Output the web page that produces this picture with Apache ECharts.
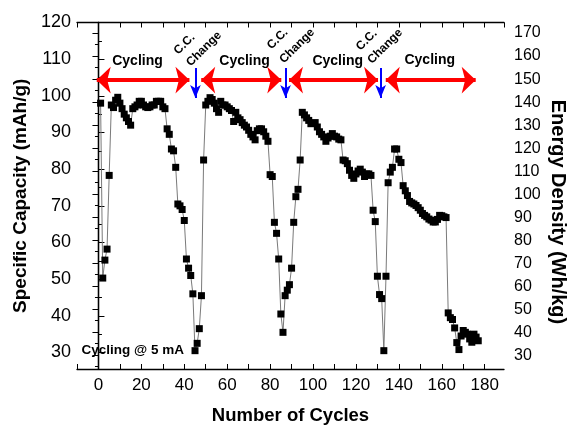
<!DOCTYPE html>
<html>
<head>
<meta charset="utf-8">
<script src="https://cdn.jsdelivr.net/npm/echarts@6/dist/echarts.min.js"></script>
<style>
  html, body { margin: 0; padding: 0; background: #fff; }
  #main { width: 570px; height: 425px; }
</style>
</head>
<body>
<div id="main"></div>
<script>
var cycles = [1,2,3,4,5,6,7,8,9,10,11,12,13,14,15,16,17,18,19,20,
  21,22,23,24,25,26,27,28,29,30,31,32,33,34,35,36,37,38,39,40,
  41,42,43,44,45,46,47,48,49,50,51,52,53,54,55,56,57,58,59,60,
  61,62,63,64,65,66,67,68,69,70,71,72,73,74,75,76,77,78,79,80,
  81,82,83,84,85,86,87,88,89,90,91,92,93,94,95,96,97,98,99,100,
  101,102,103,104,105,106,107,108,109,110,111,112,113,114,115,116,117,118,119,120,
  121,122,123,124,125,126,127,128,129,130,131,132,133,134,135,136,137,138,139,140,
  141,142,143,144,145,146,147,148,149,150,151,152,153,154,155,156,157,158,159,160,
  161,162,163,164,165,166,167,168,169,170,171,172,173,174,175,176,177];
var capacity = [98,50.3,55.2,58.2,78.3,97.5,96.8,98.8,99.6,98,
  96.5,95,94,93,92,96.5,97,97.5,98.5,98.5,
  97.5,97,96.8,97,97.5,97.5,98.5,98.5,98.5,97,
  96.5,91,89.5,85.5,85,80.5,70.5,70,69,66,
  55.5,53,51,46,30.5,32.5,36.5,45.5,82.5,97.5,
  98.5,99.5,99,98,96.5,95.5,98.5,97.5,97.5,97,
  96.5,96,93,95.5,94,93.5,92.7,92,91.5,90.6,
  89.5,88.8,88,90.5,91,91,90.2,89,87.6,78.5,
  78,65.5,62.5,55.5,40.5,35.5,45.5,47,48.5,53,
  65.5,72.5,74.5,82.5,95.5,94.8,94,93.3,92.4,92.5,
  92.7,91.5,90.2,89.5,88.8,87.6,88.5,89,89.7,89,
  88.8,88.2,88,82.5,82.3,81.5,79.7,78.3,77.5,78.7,
  79.5,80,79.2,78,78.7,78.7,78.3,68.8,65.7,50.8,
  45.8,44.7,30.5,50.8,76.3,79.2,80.5,85.5,85.5,82.7,
  81.8,75.5,74.1,72.8,71.2,70.8,70.5,70.1,69.5,68.8,
  67.9,67.4,67,66.4,66.1,65.6,65.6,66.3,67.4,67.3,
  67,66.8,40.8,39.5,39,36.7,32.7,30.8,34.5,36,
  35.5,35,33.7,32.8,35,34.2,33.2];

var xTicks = [0,20,40,60,80,100,120,140,160,180];
var annotCycling = ['Cycling','Cycling','Cycling','Cycling'];

var font = 'Liberation Sans, Arial, Helvetica, sans-serif';
var seriesData = cycles.map(function (c, i) { return [c, capacity[i]]; });

var chart = echarts.init(document.getElementById('main'), null, { renderer: 'canvas' });

var option = {
  animation: false,
  backgroundColor: '#fff',
  grid: { left: 77, right: 66, top: 22.5, bottom: 56, outerBoundsMode: 'none', containLabel: false },
  xAxis: [{
    type: 'value', position: 'bottom',
    min: -10, max: 189, interval: 10,
    axisLine: { lineStyle: { color: '#000', width: 1.3 } },
    axisTick: { inside: true, length: 5, lineStyle: { color: '#000' } },
    splitLine: { show: false },
    axisLabel: {
      color: '#000', fontSize: 17, fontFamily: font, margin: 8,
      showMinLabel: true, showMaxLabel: false,
      formatter: function (v) { return xTicks.indexOf(v) >= 0 ? String(v) : ''; }
    },
    name: 'Number of Cycles', nameLocation: 'middle', nameGap: 37,
    nameTextStyle: { fontSize: 18.5, fontWeight: 'bold', color: '#000', fontFamily: font }
  }, {
    type: 'value', position: 'top',
    min: -10, max: 189, interval: 10,
    axisLine: { lineStyle: { color: '#000', width: 1.3 } },
    axisTick: { inside: true, length: 5, lineStyle: { color: '#000' } },
    axisLabel: { show: false },
    splitLine: { show: false }
  }],
  yAxis: [{
    type: 'value', position: 'left',
    min: 25.5, max: 120, splitNumber: 9,
    axisLine: { show: true, lineStyle: { color: '#000', width: 1.3 } },
    axisTick: { show: true, inside: true, length: 6, lineStyle: { color: '#000' } },
    minorTick: { show: true, splitNumber: 2, length: 3.5, lineStyle: { color: '#000' } },
    splitLine: { show: false },
    axisLabel: {
      color: '#000', fontSize: 18, fontFamily: font, margin: 6,
      showMinLabel: false
    },
    name: 'Specific Capacity (mAh/g)', nameLocation: 'middle', nameRotate: 90, nameGap: 44,
    nameTextStyle: { fontSize: 19, fontWeight: 'bold', color: '#000', fontFamily: font }
  }, {
    type: 'value', position: 'right',
    min: 24, max: 174.6, splitNumber: 15,
    axisLine: { show: true, lineStyle: { color: '#000', width: 1.3 } },
    axisTick: { show: true, inside: true, length: 6, lineStyle: { color: '#000' } },
    minorTick: { show: true, splitNumber: 2, length: 3.5, lineStyle: { color: '#000' } },
    splitLine: { show: false },
    axisLabel: {
      color: '#000', fontSize: 16, fontFamily: font, margin: 10,
      showMinLabel: false, showMaxLabel: false
    }
  }],
  series: [{
    name: 'capacity',
    type: 'line',
    data: seriesData,
    symbol: 'rect',
    symbolSize: 7,
    showAllSymbol: true,
    itemStyle: { color: '#000' },
    lineStyle: { color: '#7a7a7a', width: 1 },
    z: 3,
    markLine: {
      silent: true,
      label: { show: false },
      data: [
        [{ coord: [-0.8, 104.3], symbol: 'arrow' }, { coord: [42.4, 104.3], symbol: 'arrow' }],
        [{ coord: [47.9, 104.3], symbol: 'arrow' }, { coord: [85.2, 104.3], symbol: 'arrow' }],
        [{ coord: [88.8, 104.3], symbol: 'arrow' }, { coord: [130.3, 104.3], symbol: 'arrow' }],
        [{ coord: [133.9, 104.3], symbol: 'arrow' }, { coord: [175.8, 104.3], symbol: 'arrow' }]
      ],
      symbolSize: [20, 14],
      lineStyle: { color: '#ff0000', width: 4, type: 'solid' }
    }
  }, {
    name: 'cc',
    type: 'line',
    data: [],
    markLine: {
      silent: true,
      label: { show: false },
      symbol: ['none', 'arrow'],
      symbolSize: [8, 13],
      data: [
        [{ coord: [45.2, 107.6] }, { coord: [45.2, 99.4] }],
        [{ coord: [87.2, 107.6] }, { coord: [87.2, 99.4] }],
        [{ coord: [131.5, 107.6] }, { coord: [131.5, 99.4] }]
      ],
      lineStyle: { color: '#0000ff', width: 2, type: 'solid' }
    }
  }]
};

chart.setOption(option);

function px(c, v) { return chart.convertToPixel({ xAxisIndex: 0, yAxisIndex: 0 }, [c, v]); }

var graphics = [];
var cyclingPos = [[18.2, 109.5], [68.1, 109.5], [111.5, 109.5], [154.4, 109.8]];
annotCycling.forEach(function (t, i) {
  var p = px(cyclingPos[i][0], cyclingPos[i][1]);
  graphics.push({ type: 'text', x: p[0], y: p[1], style: { text: t, fontSize: 14, fontWeight: 'bold', fontFamily: font, fill: '#000', align: 'center', verticalAlign: 'middle' } });
});
var ccPos = [[40.1, 114.1], [83.5, 115.5], [125, 115.2]];
var chPos = [[49.2, 112.8], [92.6, 113.6], [133.6, 113.5]];
ccPos.forEach(function (q, i) {
  var p = px(q[0], q[1]);
  graphics.push({ type: 'text', x: p[0], y: p[1], rotation: Math.PI / 4, style: { text: 'C.C.', fontSize: 12, fontWeight: 'bold', fontFamily: font, fill: '#000', align: 'center', verticalAlign: 'middle' } });
  var r = px(chPos[i][0], chPos[i][1]);
  graphics.push({ type: 'text', x: r[0], y: r[1], rotation: Math.PI / 4, style: { text: 'Change', fontSize: 12, fontWeight: 'bold', fontFamily: font, fill: '#000', align: 'center', verticalAlign: 'middle' } });
});
var note = px(-7.9, 30.7);
graphics.push({ type: 'text', x: note[0], y: note[1], style: { text: 'Cycling @ 5 mA', fontSize: 13.5, fontWeight: 'bold', fontFamily: font, fill: '#000', align: 'left', verticalAlign: 'middle' } });
graphics.push({ type: 'text', x: 558, y: 212, rotation: -Math.PI / 2, style: { text: 'Energy Density (Wh/kg)', fontSize: 20, fontWeight: 'bold', fontFamily: font, fill: '#000', align: 'center', verticalAlign: 'middle' } });

chart.setOption({ graphic: graphics });
</script>
</body>
</html>
